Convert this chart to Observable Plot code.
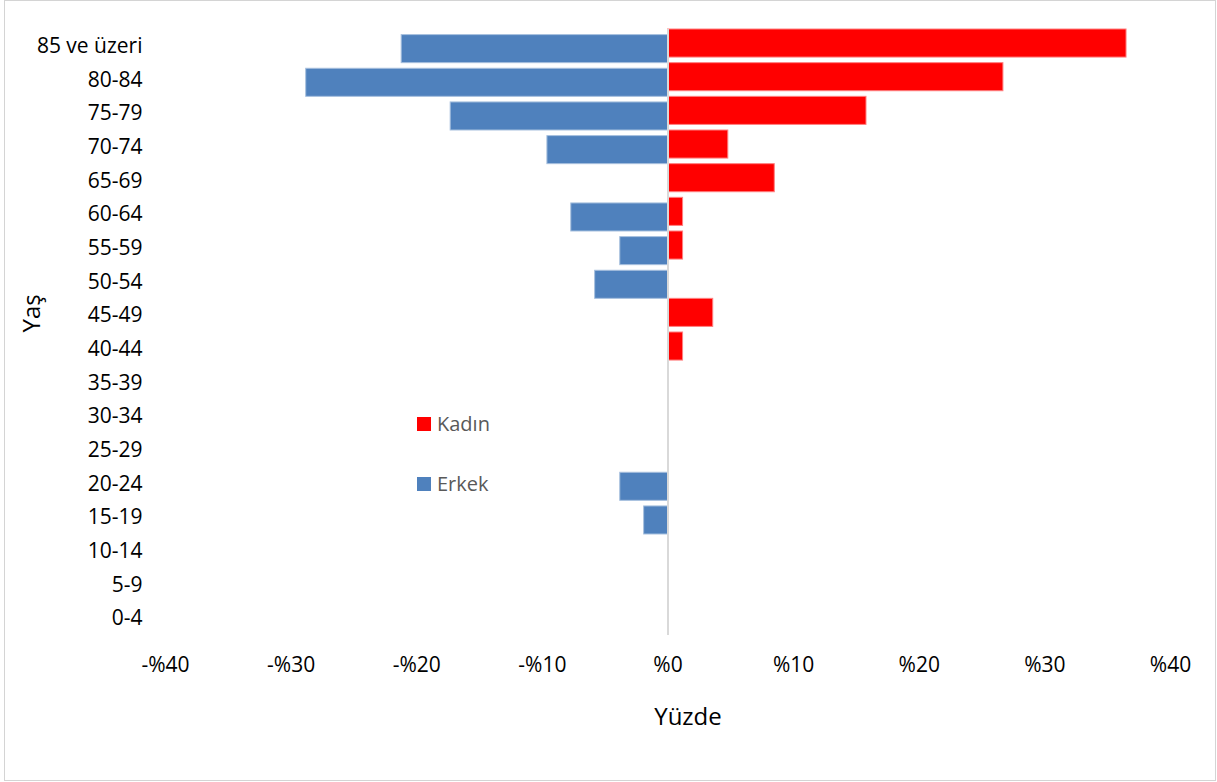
<!DOCTYPE html>
<html>
<head>
<meta charset="utf-8">
<script src="https://cdn.jsdelivr.net/npm/d3@7"></script>
<script src="https://cdn.jsdelivr.net/npm/@observablehq/plot@0.6"></script>
<style>
  html, body { margin: 0; padding: 0; background: #fff; }
  #wrap { position: relative; width: 1217px; height: 782px; overflow: hidden; font-family: "Open Sans", sans-serif; }
  #chart { position: absolute; left: 0; top: 0; width: 1217px; height: 782px; }
  #chart svg { max-width: none !important; display: block; }
  #border { position: absolute; left: 4px; top: 0; width: 1212px; height: 781px; box-sizing: border-box; border: 1px solid #d4d4d4; pointer-events: none; }
  .leg { position: absolute; left: 417px; font-size: 20px; color: #595959; display: flex; align-items: center; }
  .leg span.sw { display: inline-block; width: 14px; height: 14px; margin-right: 6px; }
</style>
</head>
<body>
<div id="wrap">
  <div id="chart"></div>
  <div id="border"></div>
  <div class="leg" style="top:410px"><span class="sw" style="background:#FF0000"></span>Kadın</div>
  <div class="leg" style="top:470px"><span class="sw" style="background:#4F81BD"></span>Erkek</div>
</div>
<script>
const ages = ["85 ve üzeri","80-84","75-79","70-74","65-69","60-64","55-59","50-54","45-49","40-44","35-39","30-34","25-29","20-24","15-19","10-14","5-9","0-4"];
const kadin = [36.5, 26.7, 15.8, 4.8, 8.5, 1.2, 1.2, 0, 3.6, 1.2, 0, 0, 0, 0, 0, 0, 0, 0];
const erkek = [-21.2, -28.8, -17.3, -9.6, 0, -7.7, -3.8, -5.8, 0, 0, 0, 0, 0, -3.8, -1.9, 0, 0, 0];
const xTicks = [-40, -30, -20, -10, 0, 10, 20, 30, 40];

const kData = ages.map((a, i) => ({age: a, v: kadin[i]})).filter(d => d.v !== 0);
const eData = ages.map((a, i) => ({age: a, v: erkek[i]})).filter(d => d.v !== 0);

const fmt = d => (d < 0 ? "-" : "") + "%" + Math.abs(d);

const chart = Plot.plot({
  width: 1217,
  height: 782,
  marginLeft: 165,
  marginRight: 47,
  marginTop: 29,
  marginBottom: 147,
  style: {fontFamily: "Open Sans, sans-serif", fontSize: "21px", color: "#000", background: "transparent", maxWidth: "none"},
  x: {domain: [-40, 40], ticks: xTicks, tickFormat: fmt, tickSize: 0, tickPadding: 22, label: null},
  y: {domain: ages, padding: 0, round: false, tickSize: 0, tickPadding: 23, label: null},
  marks: [
    Plot.barX(kData, {x: "v", y: "age", fill: "#FF0000", insetBottom: 5.6, insetTop: 0, stroke: "#ff8080", strokeWidth: 1}),
    Plot.barX(eData, {x: "v", y: "age", fill: "#4F81BD", insetTop: 5.6, insetBottom: 0, stroke: "#a7c0de", strokeWidth: 1}),
    Plot.ruleX([0], {stroke: "#d9d9d9", strokeWidth: 2}),
    Plot.text(["Yüzde"], {frameAnchor: "bottom", dx: 20, dy: 89, fontSize: 24, fill: "#000"}),
    Plot.text(["Yaş"], {frameAnchor: "left", dx: -133, rotate: -90, fontSize: 24, fill: "#000"})
  ]
});
document.getElementById("chart").appendChild(chart);
</script>
</body>
</html>
